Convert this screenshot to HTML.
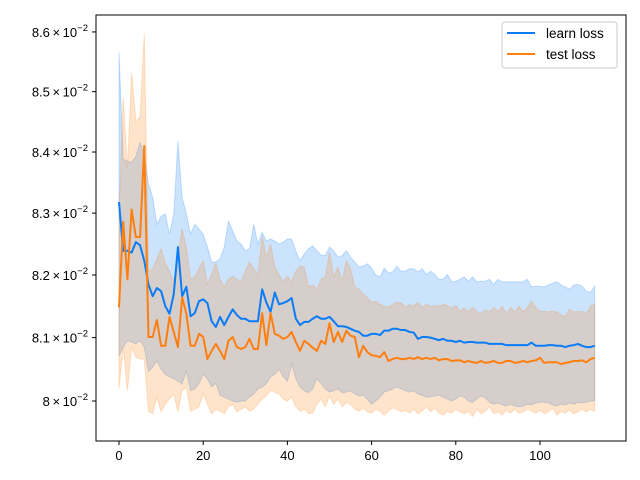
<!DOCTYPE html>
<html><head><meta charset="utf-8">
<style>
body{margin:0;background:#fff;}
svg{display:block;font-family:"Liberation Sans","DejaVu Sans",sans-serif;}
</style></head>
<body>
<svg id="chart" width="640" height="480" viewBox="0 0 640 480" xmlns="http://www.w3.org/2000/svg">
<rect width="640" height="480" fill="#fff"/>
<g id="fills"></g>
<g id="lines"></g>
<g id="axes"></g>
<g id="legend">
 <rect x="502" y="22" width="115" height="46" rx="3" fill="#fff" fill-opacity="0.8" stroke="#ccc" stroke-width="1"/>
 <line x1="507" y1="33" x2="535" y2="33" stroke="#0a7cf7" stroke-width="2"/>
 <text x="546" y="38" font-size="13.5" fill="#000">learn loss</text>
 <line x1="507" y1="54" x2="535" y2="54" stroke="#ff7f0e" stroke-width="2"/>
 <text x="546" y="59" font-size="13.5" fill="#000">test loss</text>
</g>
</svg>
<script>
const learnMean=[8.318,8.239,8.239,8.236,8.253,8.248,8.223,8.185,8.166,8.179,8.174,8.150,8.138,8.169,8.245,8.166,8.181,8.134,8.139,8.158,8.161,8.155,8.126,8.117,8.133,8.120,8.133,8.145,8.136,8.130,8.130,8.126,8.126,8.126,8.177,8.156,8.141,8.172,8.153,8.155,8.158,8.163,8.130,8.120,8.125,8.125,8.130,8.134,8.130,8.130,8.133,8.126,8.118,8.118,8.117,8.114,8.111,8.109,8.103,8.103,8.106,8.106,8.104,8.111,8.111,8.114,8.114,8.112,8.112,8.109,8.108,8.098,8.101,8.101,8.100,8.098,8.096,8.098,8.095,8.095,8.093,8.095,8.092,8.093,8.093,8.092,8.092,8.092,8.090,8.090,8.090,8.090,8.088,8.088,8.088,8.088,8.088,8.088,8.092,8.087,8.087,8.087,8.088,8.088,8.087,8.087,8.085,8.087,8.088,8.090,8.087,8.085,8.085,8.087];
const learnUpper=[8.566,8.388,8.385,8.383,8.393,8.416,8.397,8.348,8.326,8.282,8.295,8.299,8.266,8.299,8.418,8.326,8.299,8.266,8.282,8.274,8.266,8.245,8.221,8.221,8.226,8.245,8.287,8.271,8.255,8.250,8.239,8.242,8.282,8.250,8.269,8.255,8.258,8.255,8.250,8.253,8.258,8.258,8.239,8.223,8.234,8.242,8.247,8.239,8.232,8.231,8.245,8.239,8.229,8.231,8.239,8.229,8.221,8.213,8.214,8.218,8.211,8.200,8.197,8.211,8.203,8.205,8.214,8.206,8.206,8.210,8.210,8.205,8.210,8.201,8.206,8.201,8.193,8.193,8.201,8.189,8.190,8.193,8.197,8.190,8.197,8.189,8.190,8.190,8.193,8.185,8.193,8.189,8.189,8.189,8.189,8.189,8.189,8.193,8.181,8.182,8.182,8.181,8.184,8.187,8.189,8.184,8.181,8.177,8.184,8.185,8.182,8.174,8.172,8.182];
const learnLower=[8.071,8.085,8.095,8.093,8.090,8.095,8.085,8.046,8.053,8.063,8.050,8.042,8.038,8.035,8.031,8.027,8.047,8.016,8.019,8.027,8.042,8.035,8.022,8.028,8.009,8.006,8.003,8.000,7.998,8.000,8.000,8.006,8.011,8.019,8.022,8.027,8.038,8.042,8.050,8.038,8.031,8.058,8.035,8.022,8.016,8.013,8.019,8.035,8.027,8.019,8.014,8.016,8.019,8.013,8.014,8.016,8.011,8.008,8.009,8.003,7.995,8.000,8.006,8.014,8.016,8.019,8.022,8.019,8.016,8.014,8.016,8.011,8.009,8.006,8.006,8.008,8.009,8.006,8.003,8.000,8.003,8.008,8.006,8.000,7.998,8.003,8.008,8.005,7.998,7.995,7.997,7.994,7.992,7.995,7.992,7.991,7.992,7.995,7.994,7.997,7.998,7.998,7.997,7.994,7.992,7.995,7.994,7.997,7.995,7.998,7.997,7.998,8.000,8.000];
const testMean=[8.148,8.286,8.193,8.306,8.261,8.261,8.410,8.101,8.101,8.128,8.087,8.087,8.133,8.109,8.085,8.164,8.138,8.087,8.087,8.106,8.101,8.066,8.079,8.090,8.079,8.066,8.095,8.101,8.085,8.082,8.085,8.098,8.082,8.082,8.139,8.088,8.139,8.106,8.103,8.098,8.101,8.109,8.093,8.079,8.095,8.090,8.084,8.079,8.095,8.090,8.123,8.093,8.109,8.093,8.111,8.103,8.101,8.069,8.087,8.077,8.072,8.071,8.069,8.077,8.063,8.066,8.068,8.066,8.066,8.068,8.066,8.069,8.066,8.068,8.066,8.068,8.064,8.066,8.066,8.063,8.064,8.064,8.061,8.063,8.061,8.060,8.063,8.060,8.061,8.063,8.060,8.060,8.063,8.063,8.060,8.061,8.063,8.061,8.063,8.064,8.068,8.060,8.061,8.061,8.061,8.058,8.060,8.061,8.063,8.063,8.064,8.061,8.066,8.068];
const testUpper=[8.299,8.491,8.372,8.532,8.451,8.458,8.598,8.206,8.210,8.226,8.242,8.219,8.206,8.190,8.229,8.274,8.245,8.193,8.197,8.210,8.223,8.185,8.201,8.219,8.193,8.181,8.193,8.198,8.193,8.190,8.206,8.221,8.210,8.201,8.263,8.229,8.250,8.213,8.201,8.190,8.198,8.190,8.206,8.214,8.213,8.181,8.184,8.177,8.193,8.197,8.237,8.197,8.213,8.190,8.223,8.210,8.181,8.177,8.169,8.164,8.156,8.158,8.153,8.150,8.148,8.153,8.156,8.156,8.148,8.153,8.150,8.156,8.148,8.153,8.150,8.151,8.150,8.153,8.151,8.147,8.151,8.142,8.147,8.141,8.148,8.141,8.138,8.144,8.141,8.148,8.142,8.150,8.138,8.148,8.141,8.150,8.141,8.148,8.158,8.148,8.142,8.142,8.141,8.142,8.141,8.136,8.134,8.145,8.141,8.141,8.142,8.138,8.150,8.153];
const testLower=[8.019,8.085,8.016,8.085,8.069,8.066,8.066,7.984,7.980,8.006,7.983,7.995,8.003,8.011,7.983,8.016,8.022,7.984,7.987,7.991,8.011,7.995,7.980,7.987,7.984,7.980,7.991,7.995,7.983,7.987,7.991,7.984,7.987,7.995,8.003,8.008,8.016,8.014,8.011,8.003,8.000,8.006,7.991,7.984,7.987,7.980,7.981,7.995,8.003,7.991,8.008,7.995,8.003,7.991,7.998,7.995,7.987,7.984,7.989,7.983,7.981,7.987,7.984,7.978,7.984,7.989,7.987,7.983,7.986,7.981,7.987,7.980,7.984,7.991,7.983,7.989,7.981,7.978,7.984,7.981,7.987,7.983,7.980,7.984,7.976,7.987,7.980,7.984,7.991,7.980,7.983,7.978,7.986,7.981,7.987,7.981,7.983,7.987,7.984,7.981,7.986,7.980,7.983,7.989,7.978,7.984,7.981,7.986,7.980,7.983,7.987,7.983,7.987,7.984];
const xTicks=[0,20,40,60,80,100];
const yTicks=[8.0,8.1,8.2,8.3,8.4,8.5,8.6];
const yTickLabels=["8","8.1","8.2","8.3","8.4","8.5","8.6"];

const NS="http://www.w3.org/2000/svg";
const PL=96,PR=626,PT=15,PB=441;
function xs(i){return 119+4.21*i;}
function ys(v){return 401-5103*Math.log(v/8.0);}
function mk(tag,attrs,parent){const e=document.createElementNS(NS,tag);for(const k in attrs)e.setAttribute(k,attrs[k]);parent.appendChild(e);return e;}
function linePts(arr){return arr.map((v,i)=>xs(i).toFixed(2)+","+ys(v).toFixed(2)).join(" ");}
function bandPts(up,lo){const a=up.map((v,i)=>xs(i).toFixed(2)+","+ys(v).toFixed(2));const b=lo.map((v,i)=>xs(i).toFixed(2)+","+ys(v).toFixed(2)).reverse();return a.concat(b).join(" ");}

const fills=document.getElementById('fills');
const lines=document.getElementById('lines');
const axes=document.getElementById('axes');

const bf=mk('polygon',{points:bandPts(learnUpper,learnLower),fill:'#0a7cf7','fill-opacity':0.21,stroke:'#0a7cf7','stroke-opacity':0.21,'stroke-width':1},fills);


const of=mk('polygon',{points:bandPts(testUpper,testLower),fill:'#ff7f0e','fill-opacity':0.21,stroke:'#ff7f0e','stroke-opacity':0.21,'stroke-width':1},fills);


const bl=mk('polyline',{points:linePts(learnMean),fill:'none',stroke:'#0a7cf7','stroke-width':2,'stroke-linejoin':'round'},lines);


const ol=mk('polyline',{points:linePts(testMean),fill:'none',stroke:'#ff7f0e','stroke-width':2,'stroke-linejoin':'round'},lines);



const frame=mk('rect',{x:PL,y:PT,width:PR-PL,height:PB-PT,fill:'none',stroke:'#000','stroke-width':1},axes);



xTicks.forEach(t=>{
  const x=xs(t);
  const tk=mk('line',{x1:x,y1:PB,x2:x,y2:PB+4,stroke:'#000','stroke-width':1},axes);
  
  
  const tl=mk('text',{x:x,y:PB+19,'font-size':13,'text-anchor':'middle',fill:'#000'},axes);
  tl.textContent=String(t);
  
  
});
yTicks.forEach((t,i)=>{
  const y=ys(t);
  const tk=mk('line',{x1:PL-4,y1:y,x2:PL,y2:y,stroke:'#000','stroke-width':1},axes);
  
  
  const tl=mk('text',{x:88,y:y+5,'font-size':13,'text-anchor':'end',fill:'#000'},axes);
  
  
  const s1=mk('tspan',{},tl);s1.textContent=yTickLabels[i]+"\u2009\u00d7\u200910";
  const s2=mk('tspan',{dy:-6,'font-size':9.5},tl);s2.textContent="\u22122";
});
</script>
</body></html>
